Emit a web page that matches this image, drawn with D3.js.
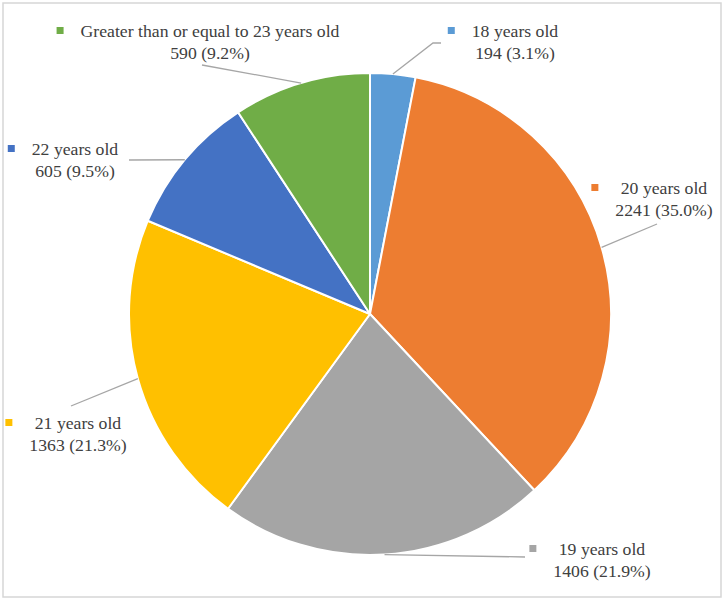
<!DOCTYPE html>
<html>
<head>
<meta charset="utf-8">
<script src="https://cdn.jsdelivr.net/npm/d3@7"></script>
<style>
  html, body { margin: 0; padding: 0; background: #fff; }
  svg { display: block; }
  text.lbl { font-family: "Liberation Serif", "Times New Roman", Tinos, "DejaVu Serif", serif; font-size: 17.7px; fill: #404040; }
</style>
</head>
<body>
<svg id="chart" width="724" height="601"></svg>
<script>
// ---- data ----
const categories = ["18 years old", "20 years old", "19 years old", "21 years old", "22 years old", "Greater than or equal to 23 years old"];
const values = [194, 2241, 1406, 1363, 605, 590];
const percentLabels = ["3.1%", "35.0%", "21.9%", "21.3%", "9.5%", "9.2%"];
const colors = ["#5B9BD5", "#ED7D31", "#A5A5A5", "#FFC000", "#4472C4", "#70AD47"];

// ---- layout (label placement, not data) ----
const labelLayout = [
  { cx: 515, y1: 31, bend: [[433, 43], [441, 43]] },
  { cx: 664, y1: 188, bend: [[657, 224]] },
  { cx: 602, y1: 549, bend: [[525, 557]] },
  { cx: 78,  y1: 423, bend: [[71, 406]] },
  { cx: 75,  y1: 149, bend: [[129, 160]] },
  { cx: 210, y1: 31,  bend: [[202, 65]] }
];

const svg = d3.select("#chart");
svg.append("rect").attr("x", 3).attr("y", 3).attr("width", 718).attr("height", 594)
  .attr("fill", "#fff").attr("stroke", "#d6d6d6").attr("stroke-width", 1.5);

const cx = 370, cy = 314, R = 241;
const g = svg.append("g").attr("transform", `translate(${cx},${cy})`);

const pie = d3.pie().value(d => d).sort(null);
const arcs = pie(values);
const arc = d3.arc().innerRadius(0).outerRadius(R);

g.selectAll("path.slice").data(arcs).enter().append("path")
  .attr("class", "slice")
  .attr("d", arc)
  .attr("fill", (d, i) => colors[i])
  .attr("stroke", "#fff")
  .attr("stroke-width", 2)
  .attr("stroke-linejoin", "round");

// leader lines
arcs.forEach((a, i) => {
  const mid = (a.startAngle + a.endAngle) / 2;
  const ex = cx + R * Math.sin(mid), ey = cy - R * Math.cos(mid);
  const pts = [[ex, ey]].concat(labelLayout[i].bend);
  svg.append("path")
    .attr("d", d3.line()(pts))
    .attr("fill", "none")
    .attr("stroke", "#a6a6a6")
    .attr("stroke-width", 1.3);
});

// labels
arcs.forEach((a, i) => {
  const L = labelLayout[i];
  const lg = svg.append("g");
  const t1 = lg.append("text").attr("class", "lbl")
    .attr("x", L.cx).attr("y", L.y1).attr("dy", "0.35em")
    .attr("text-anchor", "middle")
    .text(categories[i]);
  const t2 = lg.append("text").attr("class", "lbl")
    .attr("x", L.cx).attr("y", L.y1 + 22).attr("dy", "0.35em")
    .attr("text-anchor", "middle")
    .text(`${values[i]} (${percentLabels[i]})`);
  const w = Math.max(t1.node().getComputedTextLength(), t2.node().getComputedTextLength());
  const left = L.cx - w / 2;
  lg.append("rect")
    .attr("x", left - 24).attr("y", L.y1 - 4)
    .attr("width", 7).attr("height", 7)
    .attr("fill", colors[i]);
});
</script>
</body>
</html>
